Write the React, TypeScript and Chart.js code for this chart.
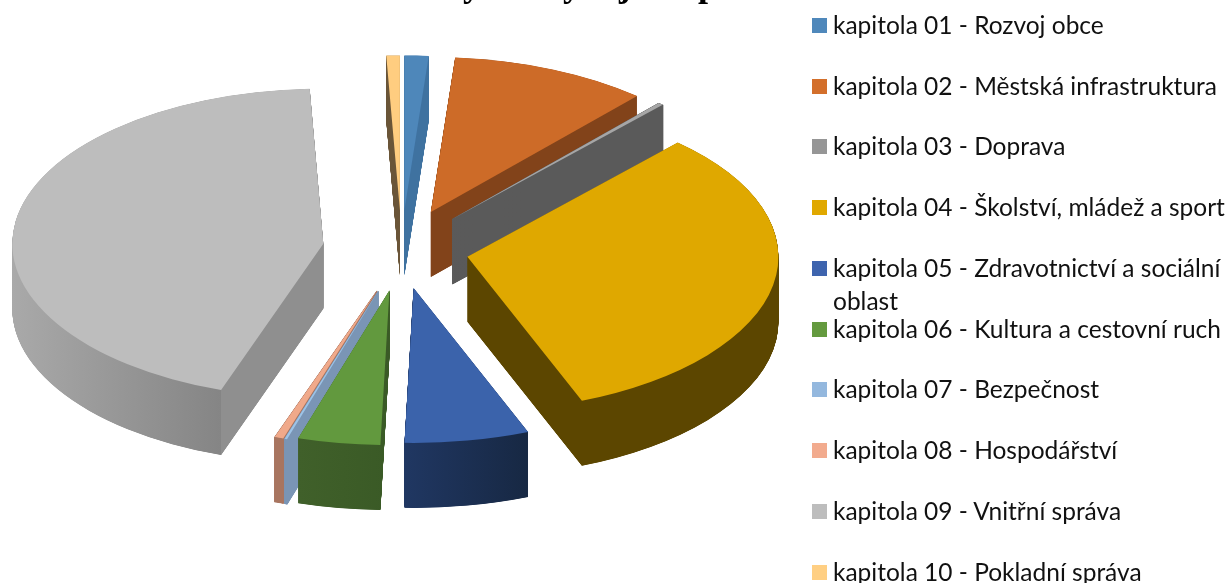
import React, { useEffect, useRef } from "react";
import { Chart, registerables } from "chart.js";

Chart.register(...registerables);

const categories = [
  "kapitola 01 - Rozvoj obce",
  "kapitola 02 - Městská infrastruktura",
  "kapitola 03 - Doprava",
  "kapitola 04 - Školství, mládež a sport",
  "kapitola 05 - Zdravotnictví a sociální oblast",
  "kapitola 06 - Kultura a cestovní ruch",
  "kapitola 07 - Bezpečnost",
  "kapitola 08 - Hospodářství",
  "kapitola 09 - Vnitřní správa",
  "kapitola 10 - Pokladní správa",
];
const shares = [1.25, 10.3, 0.28, 32.2, 6.47, 4.28, 0.13, 0.46, 44.0, 0.7];
const explode = [72, 75, 76, 67, 70, 74, 78, 78, 79, 72];
const topColors = ["#4e87ba", "#cd6b28", "#a6a6a6", "#dfa800", "#3b63ab", "#62993e", "#9dc3e6", "#f0a98a", "#bdbdbd", "#ffcd80"];
const legendColors = ["#4f88bb", "#d36f2b", "#969696", "#e0a800", "#3e64ae", "#649a3f", "#94b8de", "#f2ab8e", "#bdbdbd", "#ffcf83"];
const wallLeft = ["#3f72a0", "#82431a", "#5a5a5a", "#5c4600", "#203762", "#40602a", "#7a95b5", "#a87560", "#a9a9a9", "#6a5538"];
const wallRight = ["#3f72a0", "#82431a", "#5a5a5a", "#5c4600", "#172843", "#3a5a26", "#7a95b5", "#a87560", "#858585", "#6a5538"];
const drawOrder = [0, 9, 1, 2, 8, 7, 6, 5, 3, 4];

const CX = 401.5;
const CY = 250;
const RX = 311;
const RY = 155;
const EXPLODE_TILT = 0.55;
const DEPTH = 65;
const STEP = 0.25;

const pie3d = {
  id: "pie3d",
  beforeDatasetsDraw(chart: any) {
    const ctx = chart.ctx;
    const arcs = chart.getDatasetMeta(0).data;
    const base = {
      borderWidth: 0,
      borderColor: "transparent",
      borderAlign: "center",
      spacing: 0,
      offset: 0,
      borderRadius: 0,
      circular: true,
      borderDash: [],
      borderDashOffset: 0,
      borderJoinStyle: "round",
    };
    drawOrder.forEach((i) => {
      const arc = arcs[i];
      const r = arc.outerRadius;
      const sx = RX / r;
      const sy = RY / r;
      const mid = (arc.startAngle + arc.endAngle) / 2;
      const ox = Math.cos(mid) * explode[i];
      const oy = Math.sin(mid) * explode[i] * EXPLODE_TILT;
      const place = (dy: number) => {
        ctx.save();
        ctx.translate(CX + ox, CY + oy + dy);
        ctx.scale(sx, sy);
        ctx.translate(-arc.x, -arc.y);
      };
      const xs = [arc.startAngle, arc.endAngle, mid].map((a: number) => Math.cos(a) * r);
      if (arc.startAngle < Math.PI && arc.endAngle > Math.PI) xs.push(-r);
      const g = ctx.createLinearGradient(arc.x + Math.min(0, ...xs), 0, arc.x + Math.max(0, ...xs), 0);
      g.addColorStop(0, wallLeft[i]);
      g.addColorStop(i === 8 ? 0.67 : 1, wallRight[i]);
      if (i === 8) {
        g.addColorStop(0.6701, "#8f8f8f");
        g.addColorStop(1, "#8f8f8f");
      }
      const thin = shares[i] < 0.5;
      arc.options = { ...base, backgroundColor: g, borderColor: g, borderWidth: thin ? 1 : 0 };
      for (let d = DEPTH; d > 0; d -= STEP) {
        place(d);
        arc.draw(ctx);
        ctx.restore();
      }
      arc.options = { ...base, backgroundColor: topColors[i] };
      place(0);
      arc.draw(ctx);
      ctx.restore();
    });
    return false;
  },
};

export default function App() {
  const ref = useRef<HTMLCanvasElement>(null);
  useEffect(() => {
    document.body.style.margin = "0";
    const chart = new Chart(ref.current as HTMLCanvasElement, {
      type: "pie",
      data: {
        labels: categories,
        datasets: [{ data: shares, backgroundColor: topColors, borderWidth: 0 }],
      },
      options: {
        animation: false,
        responsive: false,
        devicePixelRatio: 1,
        layout: { padding: 0 },
        plugins: { legend: { display: false }, tooltip: { enabled: false } },
      },
      plugins: [pie3d],
    } as any);
    return () => chart.destroy();
  }, []);
  const tops = [18, 79, 139, 200, 261, 322, 382, 443, 504, 565];
  return (
    <div style={{ position: "relative", width: 1231, height: 583, overflow: "hidden", background: "#fff" }}>
      <canvas ref={ref} width={1231} height={583} style={{ position: "absolute", left: 0, top: 0, display: "block" }} />
      <div
        style={{
          position: "absolute",
          left: 383,
          top: -37,
          whiteSpace: "nowrap",
          font: "bold 36px 'Liberation Serif', serif",
          color: "#000",
        }}
      >
        Podíly dle výdajů kapitol
      </div>
      {categories.map((c, i) => (
        <div key={c}>
          <div
            style={{
              position: "absolute",
              left: 812,
              top: tops[i],
              width: 15,
              height: 15,
              background: legendColors[i],
            }}
          />
          <div
            style={{
              position: "absolute",
              left: 833,
              top: tops[i] - 10,
              width: 398,
              font: "400 24.5px/33px Lato, sans-serif",
              color: "#111",
              whiteSpace: i === 4 ? "normal" : "nowrap",
            }}
          >
            {c}
          </div>
        </div>
      ))}
    </div>
  );
}
